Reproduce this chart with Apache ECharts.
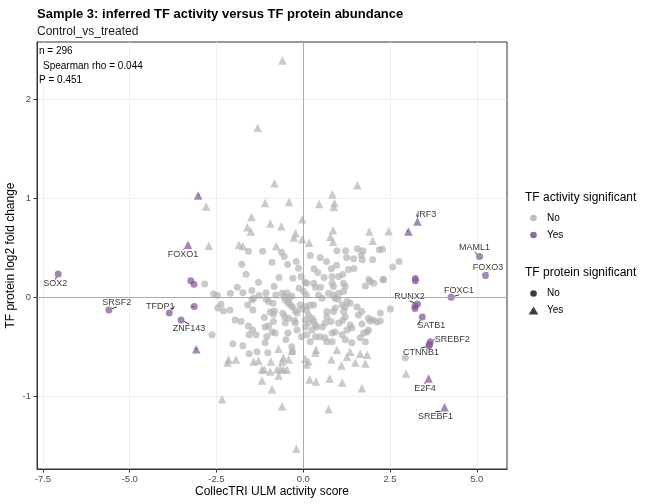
<!DOCTYPE html>
<html>
<head>
<meta charset="utf-8">
<script src="https://cdn.jsdelivr.net/npm/echarts@6/dist/echarts.min.js"></script>
<style>
  html, body { margin: 0; padding: 0; background: #fff; }
  #chart { width: 648px; height: 504px; }
</style>
</head>
<body>
<div id="chart"></div>
<script>
// tick positions of the two axes
var xTicks = [-7.5, -5, -2.5, 0, 2.5, 5];
var yTicks = [-1, 0, 1, 2];

// activity not significant, protein not significant  (x = ULM score, y = log2FC)
var noNoPoints = [
  [-1.58,0.465],[-1.17,0.465],[-0.63,0.455],[-0.55,0.41],
  [0.97,0.47],[1.22,0.47],[1.56,0.49],[1.72,0.47],[2.19,0.48],[2.28,0.485],
  [0.49,0.40],[0.67,0.36],[1.25,0.40],[1.45,0.387],[1.67,0.427],[1.70,0.377],[2.00,0.377],
  [2.76,0.36],[2.58,0.306],
  [0.31,0.286],[0.42,0.25],[0.81,0.286],[0.96,0.323],[1.46,0.29],
  [0.83,0.21],[1.02,0.21],[1.14,0.23],[1.89,0.18],[2.30,0.18],
  [-1.77,0.333],[-0.90,0.354],[-0.135,0.293],[-1.65,0.232],[-2.84,0.134],[-1.29,0.151],[-0.84,0.107],[-0.30,0.192],[-0.06,0.208],
  [-2.58,0.033],[-2.47,0.016],[-2.10,0.04],[-1.74,0.046],[-1.48,0.067],[-1.27,0.016],[-1.07,0.046],
  [-0.79,0.023],[-0.61,0.04],[-0.47,0.046],[-0.54,0.006],[-0.40,-0.01],[-0.33,0.013],
  [0.01,0.057],[0.09,0.023],
  [-2.37,-0.07],[-2.46,-0.11],[-2.30,-0.138],[-2.11,-0.128],
  [-1.60,-0.078],[-1.48,-0.027],[-1.43,-0.01],[-1.45,-0.128],
  [-1.07,-0.02],[-1.00,-0.044],[-0.87,-0.06],[-0.83,-0.138],[-0.86,-0.172],
  [-0.52,-0.027],[-0.44,-0.055],[-0.37,-0.078],[-0.31,-0.10],[-0.23,-0.135],[-0.18,-0.162],
  [-0.59,-0.162],[-0.54,-0.196],
  [-0.09,-0.078],[-0.04,-0.12],[0.06,-0.095],
  [-1.12,-0.206],[-1.96,-0.229],[-1.79,-0.246],[-0.86,-0.246],[-0.42,-0.212],[-0.25,-0.236],[0.06,-0.229],[0.15,-0.179],
  [-1.58,-0.29],[-1.46,-0.33],[-1.36,-0.38],[-1.56,-0.38],[-1.10,-0.30],[-1.00,-0.29],[-0.90,-0.35],[-0.81,-0.36],[-1.05,-0.40],[-1.10,-0.46],
  [-0.52,-0.26],[-0.44,-0.36],[-0.50,-0.43],[-0.23,-0.26],[-0.18,-0.33],[0.06,-0.30],[0.10,-0.38],
  [-2.63,-0.38],[-2.03,-0.47],[-1.74,-0.49],[-1.56,-0.57],[-1.33,-0.55],[-1.02,-0.56],[-0.33,-0.50],[-0.31,-0.55],
  [0.15,-0.26],[0.30,-0.24],[0.35,-0.28],[0.25,-0.33],[0.39,-0.30],[0.63,-0.26],[0.83,-0.36],[0.92,-0.35],[1.02,-0.26],[1.35,-0.28],
  [1.40,-0.31],[1.69,-0.27],[1.93,-0.24],[2.12,-0.25],[2.22,-0.24],[1.74,-0.36],[1.84,-0.35],[1.88,-0.33],[1.26,-0.33],[1.12,-0.38],
  [1.21,-0.43],[1.40,-0.46],[1.64,-0.41],[1.79,-0.45],[0.35,-0.40],[0.49,-0.40],[0.63,-0.41],[0.68,-0.45],[0.83,-0.45],[0.20,-0.45],
  [2.94,-0.61],
  [0.10,0.14],[0.30,0.14],[0.35,0.10],[0.83,0.14],[0.87,0.107],[1.16,0.14],[1.21,0.107],[1.93,0.158],[2.03,0.14],[1.79,0.114],[2.31,0.175],
  [0.44,0.023],[0.54,-0.01],[0.73,0.04],[0.87,0.023],[1.02,0.04],[1.16,0.057],[0.92,-0.01],[1.26,-0.044],[1.35,-0.06],[1.12,-0.078],[1.21,-0.10],[1.55,-0.10],
  [0.20,-0.078],[0.30,-0.078],[0.10,-0.128],[0.68,-0.145],[0.87,-0.145],[0.92,-0.11],[1.69,-0.145],[2.22,-0.16],[2.51,-0.12],[1.16,-0.145],
  [0.68,-0.196],[1.21,-0.196],[1.59,-0.179],[1.88,-0.212],[2.01,-0.229],[0.25,-0.212],[0.80,-0.246],[1.14,-0.236],
  [-0.45,0.33],[-0.20,0.36],[0.20,0.42],[0.05,0.15],[-0.12,0.09],[0.60,0.20],[1.30,0.28],[0.50,0.10],[-0.70,0.20],[-1.90,0.10],
  [1.00,-0.02],[0.55,-0.30],[-0.05,-0.40],[-0.95,-0.15]
];

// activity not significant, protein significant
var noYesPoints = [
  [-0.60,2.39],[-1.31,1.71],[-0.83,1.15],[-2.80,0.915],[-1.10,0.95],[-0.41,0.96],[-1.49,0.81],[-1.61,0.707],[-1.51,0.663],
  [-0.95,0.743],[-0.63,0.717],[-0.03,0.788],[-0.22,0.646],[-0.27,0.602],[-0.03,0.586],[0.17,0.55],[-2.72,0.52],[-1.85,0.53],
  [-1.74,0.518],[-0.78,0.518],[0.46,0.94],[1.56,1.13],[0.84,1.04],[0.90,0.95],[0.88,0.91],[0.86,0.677],[1.90,0.663],
  [2.46,0.667],[0.78,0.61],[0.86,0.56],[2.00,0.57],
  [-2.18,-0.66],[-2.15,-0.63],[-1.94,-0.63],[-1.43,-0.65],[-1.29,-0.64],[-0.93,-0.65],[-0.71,-0.52],[-0.57,-0.61],
  [-0.61,-0.65],[-0.33,-0.54],[-0.42,-0.63],[-1.19,-0.73],[-1.12,-0.73],[-0.95,-0.75],[-0.76,-0.73],[-0.66,-0.72],
  [-0.57,-0.73],[-0.47,-0.73],[-0.71,-0.79],[-1.19,-0.84],[-0.90,-0.93],[-2.34,-1.03],[-0.61,-1.10],[0.06,-0.62],
  [0.15,-0.65],[-0.20,-1.53],
  [0.37,-0.53],[0.35,-0.56],[0.97,-0.53],[1.35,-0.55],[1.64,-0.57],[1.84,-0.58],[1.26,-0.60],[0.10,-0.68],[0.81,-0.63],
  [1.10,-0.69],[1.50,-0.66],[1.79,-0.67],[0.18,-0.83],[0.37,-0.85],[0.76,-0.82],[1.12,-0.86],[1.69,-0.92],[0.73,-1.13],
  [2.96,-0.77]
];

// activity significant, protein not significant  [x, y, gene label]
var yesNoPoints = [
  [-7.06,0.235,'SOX2'],[-5.60,-0.128,'SRSF2'],[-3.86,-0.16,'TFDP1'],[-3.52,-0.23,'ZNF143'],
  [-3.24,0.165,''],[-3.15,0.13,''],[-3.14,-0.095,''],
  [5.08,0.41,'MAML1'],[5.25,0.218,'FOXO3'],[3.23,0.19,''],[3.23,0.165,''],
  [4.26,0.0,'FOXC1'],[3.29,-0.068,'RUNX2'],[3.22,-0.088,''],[3.22,-0.115,''],
  [3.43,-0.20,'SATB1'],[3.66,-0.45,'SREBF2'],[3.64,-0.475,''],[3.62,-0.49,'CTNNB1']
];

// activity significant, protein significant
var yesYesPoints = [
  [-3.08,-0.525,''],[-3.32,0.53,'FOXO1'],[-3.03,1.026,''],[3.29,0.764,'IRF3'],
  [3.03,0.663,''],[3.61,-0.82,'E2F4'],[4.07,-1.11,'SREBF1']
];

// where each repelled label sits relative to its point (px)
var labelShift = {
  SOX2: [-3, 10], SRSF2: [8, -7.5], TFDP1: [-9, -7], ZNF143: [8, 8.5],
  FOXO1: [-5, 9.5], IRF3: [9, -7], MAML1: [-5, -9], FOXO3: [2.5, -8],
  FOXC1: [8, -7], RUNX2: [-8, -7.5], SATB1: [9, 8], SREBF2: [22, -2.5],
  CTNNB1: [-8, 7], E2F4: [-3.5, 10], SREBF1: [-9, 9]
};

var grey = 'rgba(178,178,178,0.85)';
var purple = 'rgba(130,84,155,0.9)';
var font = 'Liberation Sans, Arial, sans-serif';

var geneLabel = {
  show: true,
  position: 'inside',
  formatter: function (p) { return p.value[2]; },
  color: '#000',
  fontSize: 9,
  fontFamily: font
};
var geneLayout = function (p) {
  var s = labelShift[p.text];
  if (!s) return {};
  return { dx: s[0], dy: s[1] };
};
var geneLine = { show: true, lineStyle: { color: '#000', width: 0.8 } };

var myChart = echarts.init(document.getElementById('chart'));

var option = {
  animation: false,
  backgroundColor: '#fff',
  title: [
    { text: 'Sample 3: inferred TF activity versus TF protein abundance', left: 32, top: 3,
      textStyle: { fontSize: 13, fontWeight: 'bold', color: '#000', fontFamily: font } },
    { text: 'Control_vs_treated', left: 32, top: 21,
      textStyle: { fontSize: 12, fontWeight: 'normal', color: '#1a1a1a', fontFamily: font } }
  ],
  grid: { left: 37, top: 42, width: 470, height: 427, show: true, borderColor: '#333', borderWidth: 1,
    backgroundColor: '#fff', outerBoundsMode: 'none', containLabel: false },
  xAxis: {
    type: 'value', min: -7.67, max: 5.87,
    name: 'CollecTRI ULM activity score', nameLocation: 'middle', nameGap: 17, nameMoveOverlap: false,
    nameTextStyle: { fontSize: 12, color: '#000', fontFamily: font },
    axisLine: { show: true, onZero: false, lineStyle: { color: '#333' } },
    axisTick: { show: true, length: 3.5, customValues: xTicks, lineStyle: { color: '#333' } },
    axisLabel: { customValues: xTicks, margin: 5, fontSize: 9.5, color: '#4d4d4d', fontFamily: font,
      formatter: function (v) { return v.toFixed(1); } },
    splitLine: { show: true, lineStyle: { color: '#ebebeb', width: 0.8 } }
  },
  yAxis: {
    type: 'value', min: -1.734, max: 2.576,
    name: 'TF protein log2 fold change', nameLocation: 'middle', nameGap: 20, nameMoveOverlap: false,
    nameTextStyle: { fontSize: 12, color: '#000', fontFamily: font },
    axisLine: { show: true, onZero: false, lineStyle: { color: '#333' } },
    axisTick: { show: true, length: 3.5, customValues: yTicks, lineStyle: { color: '#333' } },
    axisLabel: { customValues: yTicks, margin: 6, fontSize: 9.5, color: '#4d4d4d', fontFamily: font },
    splitLine: { show: true, lineStyle: { color: '#ebebeb', width: 0.8 } }
  },
  graphic: [
    { type: 'text', left: 39, top: 46, z: 100, style: { text: 'n = 296', fontSize: 10, fill: '#000', fontFamily: font } },
    { type: 'text', left: 43, top: 61, z: 100, style: { text: 'Spearman rho = 0.044', fontSize: 10, fill: '#000', fontFamily: font } },
    { type: 'text', left: 39, top: 75, z: 100, style: { text: 'P = 0.451', fontSize: 10, fill: '#000', fontFamily: font } },

    { type: 'text', left: 525, top: 192, style: { text: 'TF activity significant', fontSize: 12, fill: '#000', fontFamily: font } },
    { type: 'circle', shape: { cx: 533.5, cy: 218, r: 3.3 }, style: { fill: grey } },
    { type: 'text', left: 547, top: 213, style: { text: 'No', fontSize: 10, fill: '#000', fontFamily: font } },
    { type: 'circle', shape: { cx: 533.5, cy: 235, r: 3.3 }, style: { fill: purple } },
    { type: 'text', left: 547, top: 230, style: { text: 'Yes', fontSize: 10, fill: '#000', fontFamily: font } },

    { type: 'text', left: 525, top: 267, style: { text: 'TF protein significant', fontSize: 12, fill: '#000', fontFamily: font } },
    { type: 'circle', shape: { cx: 533.5, cy: 293.5, r: 3.3 }, style: { fill: '#3d3d3d' } },
    { type: 'text', left: 547, top: 288, style: { text: 'No', fontSize: 10, fill: '#000', fontFamily: font } },
    { type: 'polygon', shape: { points: [[533.5, 306.5], [538.3, 314.5], [528.7, 314.5]] }, style: { fill: '#3d3d3d' } },
    { type: 'text', left: 547, top: 305, style: { text: 'Yes', fontSize: 10, fill: '#000', fontFamily: font } }
  ],
  series: [
    {
      type: 'scatter', data: [], z: 1, silent: true,
      markLine: {
        silent: true, symbol: 'none', label: { show: false },
        lineStyle: { color: '#a3a3a3', width: 0.9, type: 'solid' },
        data: [{ xAxis: 0 }, { yAxis: 0 }]
      }
    },
    { name: 'no-no', type: 'scatter', z: 2, data: noNoPoints, symbol: 'circle', symbolSize: 7, itemStyle: { color: grey } },
    { name: 'no-yes', type: 'scatter', z: 2, data: noYesPoints, symbol: 'triangle', symbolSize: 8.5, itemStyle: { color: grey } },
    { name: 'yes-no', type: 'scatter', z: 3, data: yesNoPoints, symbol: 'circle', symbolSize: 7, itemStyle: { color: purple },
      label: geneLabel, labelLayout: geneLayout, labelLine: geneLine },
    { name: 'yes-yes', type: 'scatter', z: 3, data: yesYesPoints, symbol: 'triangle', symbolSize: 8.5, itemStyle: { color: purple },
      label: geneLabel, labelLayout: geneLayout, labelLine: geneLine }
  ]
};
myChart.setOption(option);
</script>
</body>
</html>
